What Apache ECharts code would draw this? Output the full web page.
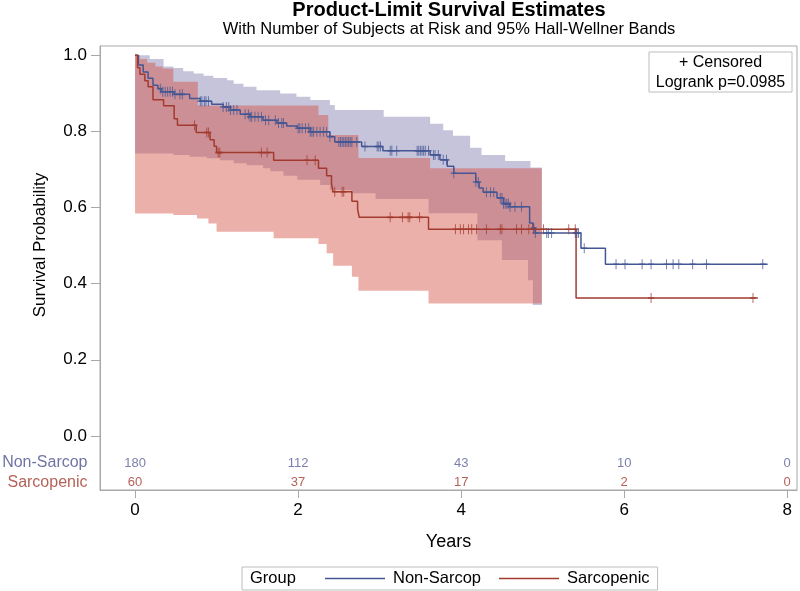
<!DOCTYPE html>
<html><head><meta charset="utf-8">
<script src="https://cdn.jsdelivr.net/npm/echarts@6/dist/echarts.min.js"></script>
<style>html,body{margin:0;padding:0;background:#fff}#c{width:800px;height:591px}</style>
</head><body><div id="c"></div>
<script>
// ---------- data ----------
const groupNames = ['Non-Sarcop', 'Sarcopenic'];
const xTicks = [0, 2, 4, 6, 8];
const yTicks = [0, 0.2, 0.4, 0.6, 0.8, 1.0];
const atRiskTimes = [0, 2, 4, 6, 8];
const atRiskNon = [180, 112, 43, 10, 0];
const atRiskSar = [60, 37, 17, 2, 0];

// Kaplan-Meier step curves (time of step, survival after step)
const nonT = [0, 0.04, 0.10, 0.16, 0.22, 0.28, 0.32, 0.48, 0.67, 0.80, 0.94, 1.08, 1.17, 1.29, 1.41, 1.57, 1.74, 1.86, 1.99, 2.15, 2.39, 2.45, 2.78, 3.04, 3.62, 3.74, 3.83, 3.91, 4.18, 4.22, 4.27, 4.44, 4.52, 4.60, 4.84, 4.88, 4.91, 5.47, 5.77, 7.76];
const nonS = [1.0, 0.974, 0.956, 0.939, 0.921, 0.912, 0.904, 0.897, 0.886, 0.879, 0.871, 0.864, 0.856, 0.845, 0.838, 0.829, 0.822, 0.814, 0.808, 0.799, 0.786, 0.772, 0.760, 0.749, 0.738, 0.725, 0.708, 0.690, 0.667, 0.651, 0.640, 0.625, 0.610, 0.602, 0.559, 0.546, 0.533, 0.493, 0.451, 0.451];
const sarT = [0, 0.03, 0.06, 0.12, 0.16, 0.22, 0.35, 0.48, 0.52, 0.75, 0.92, 0.97, 1.00, 1.70, 2.25, 2.35, 2.41, 2.43, 2.66, 2.73, 2.75, 3.60, 5.41, 7.64];
const sarS = [1.0, 0.967, 0.950, 0.933, 0.917, 0.883, 0.867, 0.833, 0.816, 0.797, 0.778, 0.761, 0.744, 0.724, 0.703, 0.683, 0.662, 0.641, 0.616, 0.595, 0.574, 0.543, 0.362, 0.362];

// censored times
const nonCens = [0.31,0.34,0.37,0.40,0.43,0.46,0.49,0.55,0.58,0.80,0.82,0.85,0.87,0.90,1.08,1.12,1.15,1.17,1.21,1.25,1.35,1.39,1.41,1.43,1.47,1.51,1.55,1.60,1.64,1.72,1.76,1.80,1.82,2.00,2.02,2.05,2.09,2.13,2.15,2.17,2.19,2.23,2.27,2.31,2.35,2.39,2.50,2.52,2.54,2.56,2.58,2.60,2.62,2.64,2.66,2.72,2.82,2.97,2.99,3.01,3.13,3.15,3.21,3.46,3.48,3.50,3.52,3.54,3.56,3.60,3.66,3.68,3.72,3.78,3.82,3.91,4.18,4.21,4.31,4.36,4.40,4.48,4.50,4.52,4.54,4.56,4.58,4.60,4.66,4.74,4.89,4.91,5.05,5.07,5.11,5.40,5.42,5.44,5.51,5.90,6.01,6.22,6.33,6.52,6.60,6.67,6.84,7.01,7.70];
const sarCens = [0.73,0.88,0.90,1.02,1.04,1.55,1.62,2.11,2.21,2.45,2.54,2.56,3.13,3.28,3.35,3.37,3.49,3.93,3.99,4.03,4.09,4.13,4.19,4.31,4.48,4.50,4.68,4.74,4.83,4.89,5.01,5.32,5.40,6.33,7.58];

// 95% Hall-Wellner bands (step start times and values)
const bandEnd = 4.99;
const nonUpT = [0, 0.18, 0.35, 0.47, 0.59, 0.72, 0.84, 0.96, 1.13, 1.21, 1.33, 1.49, 1.78, 1.98, 2.15, 2.39, 2.45, 3.05, 3.62, 3.78, 3.90, 4.11, 4.25, 4.54, 4.85];
const nonUpV = [1.0, 0.99, 0.97, 0.966, 0.958, 0.952, 0.946, 0.940, 0.934, 0.925, 0.917, 0.908, 0.899, 0.891, 0.882, 0.869, 0.856, 0.838, 0.820, 0.803, 0.788, 0.757, 0.738, 0.722, 0.705];
const nonLoT = [0, 0.47, 0.67, 0.88, 1.04, 1.21, 1.37, 1.57, 1.66, 1.82, 1.99, 2.27, 2.39, 2.65, 2.95, 3.60, 4.20, 4.50, 4.82, 4.88];
const nonLoV = [0.742, 0.738, 0.733, 0.729, 0.724, 0.716, 0.711, 0.703, 0.695, 0.683, 0.673, 0.659, 0.646, 0.637, 0.622, 0.585, 0.514, 0.462, 0.409, 0.344];
const sarUpT = [0, 0.06, 0.15, 0.25, 0.34, 0.47, 0.77, 2.25, 2.37, 2.74, 3.62];
const sarUpV = [1.0, 0.99, 0.98, 0.97, 0.965, 0.93, 0.868, 0.843, 0.79, 0.73, 0.703];
const sarLoT = [0, 0.47, 0.76, 0.90, 1.00, 1.70, 2.25, 2.35, 2.43, 2.66, 2.74, 3.60];
const sarLoV = [0.584, 0.58, 0.571, 0.558, 0.536, 0.519, 0.504, 0.48, 0.447, 0.418, 0.381, 0.348];

// ---------- helpers ----------
const FONT = "'Liberation Sans', Arial, sans-serif";
const BLUE = '#445694', RED = '#A23A2E';
const xMin = -0.43, xMax = 8.12, yMin = -0.142, yMax = 1.024;

function zip(a, b) { return a.map((v, i) => [v, b[i]]); }
function survAt(T, S, t) { let v = S[0]; for (let i = 0; i < T.length; i++) { if (T[i] <= t) v = S[i]; } return v; }
function bandPoly(api, upT, upV, loT, loV, tEnd) {
  const pts = [];
  for (let i = 0; i < upT.length; i++) {
    const t1 = i + 1 < upT.length ? upT[i + 1] : tEnd;
    pts.push(api.coord([upT[i], upV[i]]));
    pts.push(api.coord([t1, upV[i]]));
  }
  for (let i = loT.length - 1; i >= 0; i--) {
    const t1 = i + 1 < loT.length ? loT[i + 1] : tEnd;
    pts.push(api.coord([t1, loV[i]]));
    pts.push(api.coord([loT[i], loV[i]]));
  }
  return pts;
}
function bandSeries(upT, upV, loT, loV, fill, z) {
  return {
    type: 'custom', silent: true, z: z, clip: false,
    data: [[0, 0]],
    renderItem: function (params, api) {
      return { type: 'polygon', shape: { points: bandPoly(api, upT, upV, loT, loV, bandEnd) }, style: { fill: fill } };
    }
  };
}
const plusPath = 'path://M5,0L5,10M0,5L10,5';
function censSeries(times, T, S, color) {
  return {
    type: 'scatter', silent: true, z: 5,
    symbol: plusPath, symbolSize: [6, 10],
    itemStyle: { color: 'none', borderColor: color, borderWidth: 1.2 },
    data: times.map(t => [t, survAt(T, S, t)])
  };
}
const rowNonY = -0.071, rowSarY = -0.1234;
function riskSeries(times, counts, yv, color) {
  return {
    type: 'scatter', silent: true, z: 6, symbolSize: 1,
    itemStyle: { color: 'transparent' },
    label: { show: true, position: 'inside', formatter: p => String(p.data[2]), fontSize: 13, color: color, fontFamily: FONT },
    data: times.map((t, i) => [t, yv, counts[i]])
  };
}
function rowLabel(name, yv, color) {
  return {
    type: 'scatter', silent: true, z: 6, symbolSize: 1,
    itemStyle: { color: 'transparent' },
    label: { show: true, position: 'left', distance: 12, formatter: name, fontSize: 16, color: color, fontFamily: FONT },
    data: [[xMin, yv]]
  };
}

const chart = echarts.init(document.getElementById('c'), null, { renderer: 'canvas' });
chart.setOption({
  animation: false,
  backgroundColor: '#fff',
  textStyle: { fontFamily: FONT },
  title: {
    text: 'Product-Limit Survival Estimates',
    subtext: 'With Number of Subjects at Risk and 95% Hall-Wellner Bands',
    left: 449, textAlign: 'center', top: 0, padding: 0, itemGap: 1,
    textStyle: { fontSize: 20, fontWeight: 'bold', color: '#000', fontFamily: FONT },
    subtextStyle: { fontSize: 16.5, color: '#000', fontFamily: FONT }
  },
  grid: { left: 100, right: 3, top: 46, bottom: 101, show: true, borderColor: '#a8a8a8', borderWidth: 1, backgroundColor: 'transparent' },
  xAxis: {
    type: 'value', min: xMin, max: xMax,
    name: 'Years', nameLocation: 'middle', nameGap: 43,
    nameTextStyle: { fontSize: 18, color: '#000', fontFamily: FONT },
    axisLine: { show: true, onZero: false, lineStyle: { color: '#a8a8a8' } },
    axisTick: { show: true, length: 8, customValues: xTicks, lineStyle: { color: '#a8a8a8' } },
    axisLabel: { customValues: xTicks, fontSize: 17, margin: 12, color: '#000', formatter: v => String(v) },
    splitLine: { show: false }
  },
  yAxis: {
    type: 'value', min: yMin, max: yMax,
    name: 'Survival Probability', nameLocation: 'middle', nameGap: 51,
    nameTextStyle: { fontSize: 17, color: '#000', fontFamily: FONT, padding: [0, 0, 0, 46] },
    axisLine: { show: true, onZero: false, lineStyle: { color: '#a8a8a8' } },
    axisTick: { show: true, length: 9, customValues: yTicks, lineStyle: { color: '#a8a8a8' } },
    axisLabel: { customValues: yTicks, fontSize: 17, margin: 13, color: '#000', formatter: v => v.toFixed(1) },
    splitLine: { show: false }
  },
  legend: {
    data: groupNames,
    left: 242, top: 567,
    padding: [3, 8, 3, 83],
    icon: 'rect',
    itemWidth: 60, itemHeight: 1.5, itemGap: 18,
    borderColor: '#bdbdbd', borderWidth: 1,
    textStyle: { fontSize: 16.5, color: '#000', fontFamily: FONT, lineHeight: 17, padding: [0, 0, 0, 3] },
    selectedMode: false
  },
  graphic: [
    { type: 'text', silent: true, x: 250, y: 578.5, style: { text: 'Group', fontSize: 16.5, fill: '#000', fontFamily: FONT, verticalAlign: 'middle' } },
    { type: 'rect', silent: true, x: 649, y: 52, shape: { width: 143, height: 40 }, style: { fill: '#fff', stroke: '#bdbdbd', lineWidth: 1 }, z: 10 },
    { type: 'text', silent: true, z: 11, x: 720.5, y: 63, style: { text: '+ Censored', fontSize: 16, fill: '#000', fontFamily: FONT, align: 'center', verticalAlign: 'middle' } },
    { type: 'text', silent: true, z: 11, x: 720.5, y: 82.5, style: { text: 'Logrank p=0.0985', fontSize: 16, fill: '#000', fontFamily: FONT, align: 'center', verticalAlign: 'middle' } }
  ],
  series: [
    bandSeries(nonUpT, nonUpV, nonLoT, nonLoV, 'rgba(128,124,173,0.45)', 1),
    bandSeries(sarUpT, sarUpV, sarLoT, sarLoV, 'rgba(213,79,66,0.45)', 2),
    { name: groupNames[0], type: 'line', step: 'end', symbol: 'none', z: 4, lineStyle: { color: BLUE, width: 1.5 }, itemStyle: { color: BLUE }, data: zip(nonT, nonS) },
    { name: groupNames[1], type: 'line', step: 'end', symbol: 'none', z: 4, lineStyle: { color: RED, width: 1.5 }, itemStyle: { color: RED }, data: zip(sarT, sarS) },
    censSeries(nonCens, nonT, nonS, BLUE),
    censSeries(sarCens, sarT, sarS, RED),
    riskSeries(atRiskTimes, atRiskNon, rowNonY, '#5a5f98'),
    riskSeries(atRiskTimes, atRiskSar, rowSarY, RED),
    rowLabel(groupNames[0], rowNonY, '#4b518f'),
    rowLabel(groupNames[1], rowSarY, RED)
  ]
});
</script>
</body></html>
